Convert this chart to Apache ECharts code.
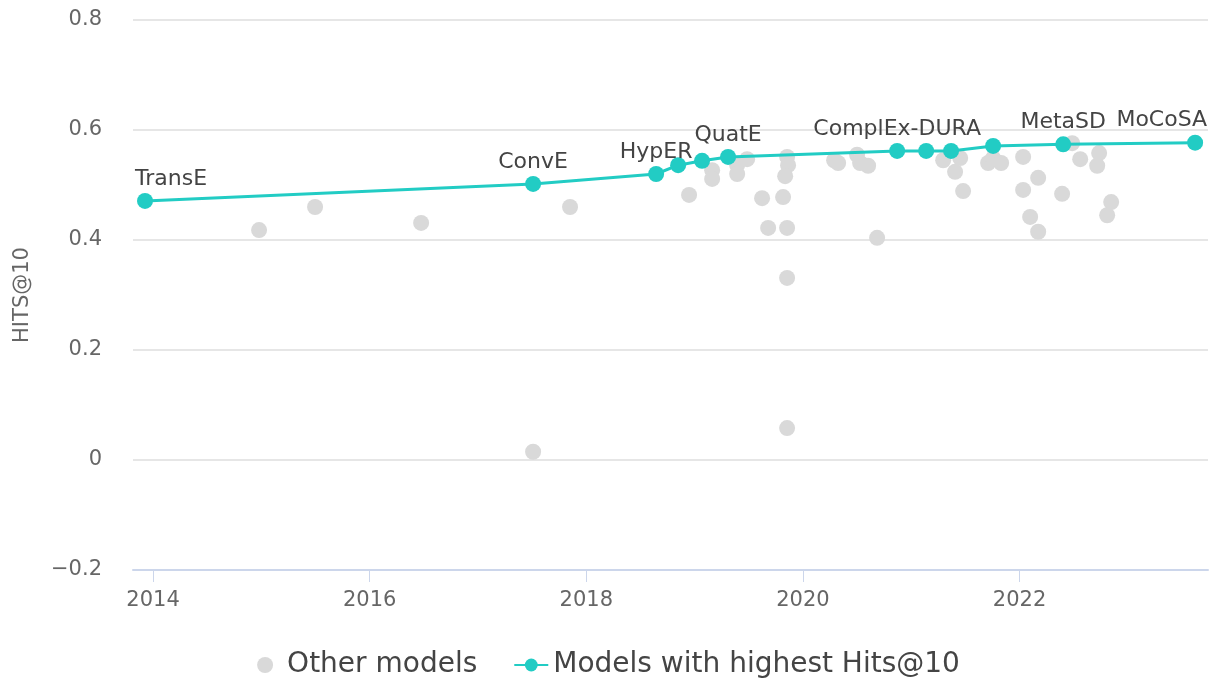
<!DOCTYPE html>
<html>
<head>
<meta charset="utf-8">
<script src="https://cdn.jsdelivr.net/npm/echarts@6/dist/echarts.min.js"></script>
<style>
  html, body { margin: 0; padding: 0; background: #fff; }
  #main { width: 1217px; height: 688px; }
</style>
</head>
<body>
<div id="main"></div>
<script>
    // models that held the best Hits@10 at their time
    var bestYears = [2013.926, 2017.509, 2018.645, 2018.848, 2019.069, 2019.309, 2020.870, 2021.138, 2021.368, 2021.756, 2022.403, 2023.621];
    var bestHits  = [0.471, 0.502, 0.520, 0.536, 0.544, 0.551, 0.562, 0.562, 0.562, 0.571, 0.574, 0.577];
    var bestNames = ['TransE', 'ConvE', 'HypER', '', '', 'QuatE', 'ComplEx-DURA', '', '', '', 'MetaSD', 'MoCoSA'];

    // all the other models
    var otherYears = [2014.979, 2015.496, 2016.475, 2017.509, 2017.850, 2018.949, 2019.162, 2019.162, 2019.393, 2019.393,
                      2019.485, 2019.623, 2019.679, 2019.817, 2019.854, 2019.854, 2019.854, 2019.854, 2019.863, 2019.836,
                      2020.288, 2020.325, 2020.500, 2020.528, 2020.602, 2020.685, 2021.295, 2021.452, 2021.405, 2021.479,
                      2021.710, 2021.756, 2021.830, 2022.033, 2022.033, 2022.098, 2022.172, 2022.172, 2022.393, 2022.486,
                      2022.560, 2022.735, 2022.717, 2022.846, 2022.809];
    var otherHits  = [0.418, 0.460, 0.431, 0.015, 0.460, 0.482, 0.527, 0.511, 0.536, 0.520,
                      0.547, 0.476, 0.422, 0.478, 0.422, 0.331, 0.058, 0.551, 0.536, 0.516,
                      0.545, 0.540, 0.555, 0.540, 0.535, 0.404, 0.545, 0.549, 0.524, 0.489,
                      0.540, 0.549, 0.540, 0.551, 0.491, 0.442, 0.513, 0.415, 0.484, 0.576,
                      0.547, 0.558, 0.535, 0.469, 0.445];

    var yearTicks = [2014, 2016, 2018, 2020, 2022];

    var FONT = 'DejaVu Sans';
    var TEAL = '#22ccc4';

    var myChart = echarts.init(document.getElementById('main'));

    var bestData = bestYears.map(function (y, i) {
        var item = { value: [y, bestHits[i]], name: bestNames[i] };
        if (i === 0) item.label = { align: 'left', offset: [-10, 0] };
        if (i === bestYears.length - 1) item.label = { align: 'right', offset: [12, 0] };
        return item;
    });
    var otherData = otherYears.map(function (y, i) { return [y, otherHits[i]]; });

    var option = {
        animation: false,
        textStyle: { fontFamily: FONT },
        grid: { left: 133, right: 9, top: 20, bottom: 118 },
        legend: {
            bottom: 4,
            left: 'center',
            itemGap: 36,
            itemWidth: 34,
            itemHeight: 16,
            textStyle: { fontFamily: FONT, fontSize: 28, color: '#444' },
            data: ['Other models', 'Models with highest Hits@10']
        },
        xAxis: {
            type: 'value',
            min: 2013.815,
            max: 2023.74,
            axisLine: { onZero: false, lineStyle: { color: '#ccd6eb', width: 2 } },
            axisTick: { show: true, length: 12, customValues: yearTicks, lineStyle: { color: '#ccd6eb', width: 1 } },
            axisLabel: {
                customValues: yearTicks,
                margin: 20,
                fontFamily: FONT,
                fontSize: 21,
                color: '#666',
                formatter: function (v) { return String(Math.round(v)); }
            },
            splitLine: { show: false }
        },
        yAxis: {
            type: 'value',
            min: -0.2,
            max: 0.8,
            interval: 0.2,
            name: 'HITS@10',
            nameLocation: 'middle',
            nameGap: 100,
            nameTextStyle: { fontFamily: FONT, fontSize: 21, color: '#666' },
            axisLine: { show: false },
            axisTick: { show: false },
            axisLabel: {
                margin: 31,
                fontFamily: FONT,
                fontSize: 21,
                color: '#666',
                formatter: function (v) {
                    var s = String(Math.round(v * 10) / 10);
                    return s.replace('-', '\u2212');
                }
            },
            splitLine: { lineStyle: { color: '#e6e6e6', width: 2 } }
        },
        series: [
            {
                name: 'Other models',
                type: 'scatter',
                symbolSize: 16,
                itemStyle: { color: '#d9d9d9', opacity: 1 },
                data: otherData,
                z: 2
            },
            {
                name: 'Models with highest Hits@10',
                type: 'line',
                symbol: 'circle',
                symbolSize: 16,
                showAllSymbol: true,
                lineStyle: { color: TEAL, width: 3 },
                itemStyle: { color: TEAL },
                label: {
                    show: true,
                    position: 'top',
                    distance: 3,
                    fontFamily: FONT,
                    fontSize: 22,
                    color: '#444',
                    formatter: function (p) { return p.name; }
                },
                data: bestData,
                z: 3
            }
        ]
    };

    myChart.setOption(option);
</script>
</body>
</html>
